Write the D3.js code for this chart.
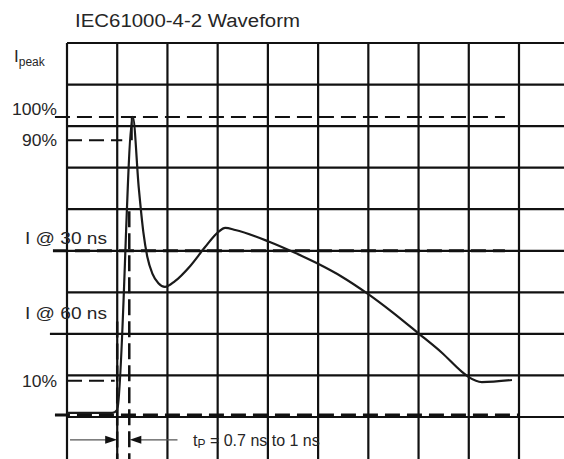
<!DOCTYPE html>
<html>
<head>
<meta charset="utf-8">
<script src="https://cdn.jsdelivr.net/npm/d3@7"></script>
<style>
  body { margin: 0; background: #fff; }
  text { font-family: "Liberation Sans", Arial, sans-serif; fill: #262626; }
</style>
</head>
<body>
<div id="chart"></div>
<script>
// grid divisions (x: time divisions, y: current divisions)
var gridX = [0, 1, 2, 3, 4, 5, 6, 7, 8, 9]
var gridY = [0, 1, 2, 3, 4, 5, 6, 7, 8, 9]

// waveform, in grid units
var waveT = [0, 0.9, 1.0, 1.31, 1.43, 1.52, 1.6, 1.7, 1.82, 1.95, 2.15, 2.45, 2.75, 3.01, 3.15, 3.35, 4.0, 4.54, 4.96, 5.48, 5.97, 6.47, 6.99, 7.47, 7.87, 8.0, 8.26, 8.86]
var waveI = [0.1, 0.1, 0.17, 7.22, 5.5, 4.45, 3.85, 3.45, 3.22, 3.13, 3.27, 3.63, 4.09, 4.45, 4.55, 4.5, 4.23, 3.95, 3.71, 3.37, 2.98, 2.53, 2.02, 1.54, 1.08, 0.96, 0.84, 0.89]

// reference levels: level, start, end, width
var levelNames = ["100%", "90%", "I @ 30 ns", "10%", "0"]
var levelY     = [7.22, 6.66, 4.0, 0.87, 0.05]
var levelFrom  = [-0.24, 0, -0.28, 0, -0.24]
var levelTo    = [8.72, 1.1, 8.72, 0.95, 9]
var levelWidth = [2, 2, 3, 2, 3]

// vertical markers for rise time
var markT    = [1.0, 1.24]
var markFrom = [2.3, 4.95]

var labels  = ["100%", "90%", "I @ 30 ns", "I @ 60 ns", "10%"]
var labelY  = [7.4, 6.66, 4.3, 2.5, 0.87]

var width = 564, height = 459

var x = d3.scaleLinear().domain([0, 9]).range([67, 519])
var y = d3.scaleLinear().domain([0, 9]).range([417, 43])

var svg = d3.select("#chart").append("svg")
  .attr("width", width).attr("height", height)

// grid
var grid = svg.append("g").attr("stroke", "#111").attr("stroke-width", 2.2)
grid.selectAll("line.v").data(gridX).enter().append("line").classed("v", true)
  .attr("x1", d => x(d)).attr("x2", d => x(d))
  .attr("y1", y(9)).attr("y2", height)
grid.selectAll("line.h").data(gridY).enter().append("line").classed("h", true)
  .attr("x1", d => d == 2 ? x(-0.34) : x(0)).attr("x2", width)
  .attr("y1", d => y(d)).attr("y2", d => y(d))

// dashed reference levels
svg.append("g").selectAll("line").data(levelY).enter().append("line")
  .attr("x1", (d, i) => x(levelFrom[i])).attr("x2", (d, i) => x(levelTo[i]))
  .attr("y1", d => y(d)).attr("y2", d => y(d))
  .attr("stroke", "#111")
  .attr("stroke-width", (d, i) => levelWidth[i])
  .attr("stroke-dasharray", "15,7")

svg.append("g").selectAll("line").data(markT).enter().append("line")
  .attr("x1", d => x(d)).attr("x2", d => x(d))
  .attr("y1", (d, i) => y(markFrom[i])).attr("y2", height)
  .attr("stroke", "#111").attr("stroke-width", 2.5)
  .attr("stroke-dasharray", "16,6")

// tick at the end of the 90% line
svg.append("line")
  .attr("x1", x(1.29)).attr("x2", x(1.29))
  .attr("y1", y(levelY[0])).attr("y2", y(levelY[1]))
  .attr("stroke", "#111").attr("stroke-width", 2)

// waveform
var wave = waveT.map((t, i) => ({t: t, v: waveI[i]}))
var line = d3.line().x(d => x(d.t)).y(d => y(d.v)).curve(d3.curveMonotoneX)
svg.append("path").datum(wave)
  .attr("d", line)
  .attr("fill", "none").attr("stroke", "#1a1a1a").attr("stroke-width", 2.2)

// arrows for tp
var ay = y(-0.55)
svg.append("line").attr("x1", x(0.06)).attr("x2", x(0.8)).attr("y1", ay).attr("y2", ay)
  .attr("stroke", "#555").attr("stroke-width", 1.2)
svg.append("path")
  .attr("d", "M" + x(0.76) + "," + (ay - 4) + "L" + x(1.0) + "," + ay + "L" + x(0.76) + "," + (ay + 4) + "Z")
  .attr("fill", "#111")
svg.append("line").attr("x1", x(1.44)).attr("x2", x(2.2)).attr("y1", ay).attr("y2", ay)
  .attr("stroke", "#555").attr("stroke-width", 1.2)
svg.append("path")
  .attr("d", "M" + x(1.48) + "," + (ay - 4) + "L" + x(1.25) + "," + ay + "L" + x(1.48) + "," + (ay + 4) + "Z")
  .attr("fill", "#111")

// texts
svg.append("text").attr("x", 75).attr("y", 27)
  .attr("font-size", 18).attr("textLength", 225).attr("lengthAdjust", "spacingAndGlyphs")
  .text("IEC61000-4-2 Waveform")

var ip = svg.append("text").attr("x", 14).attr("y", 62).attr("font-size", 17)
ip.append("tspan").text("I")
ip.append("tspan").attr("font-size", 12).attr("dy", 4).text("peak")

var labelW = [45, 35, 82, 82, 35]
svg.append("g").selectAll("text").data(labels).enter().append("text")
  .attr("x", (d, i) => 57 - labelW[i] + (i >= 2 && i <= 3 ? 50 : 0))
  .attr("y", (d, i) => y(labelY[i]))
  .attr("dy", "0.36em")
  .attr("font-size", 16)
  .attr("textLength", (d, i) => labelW[i]).attr("lengthAdjust", "spacingAndGlyphs")
  .text(d => d)

var tp = svg.append("text").attr("x", 193).attr("y", ay + 6).attr("font-size", 16)
tp.append("tspan").text("t")
tp.append("tspan").attr("font-size", 12).attr("dy", 2).text("P")
tp.append("tspan").attr("dy", -2).text(" = 0.7 ns to 1 ns")
</script>
</body>
</html>
